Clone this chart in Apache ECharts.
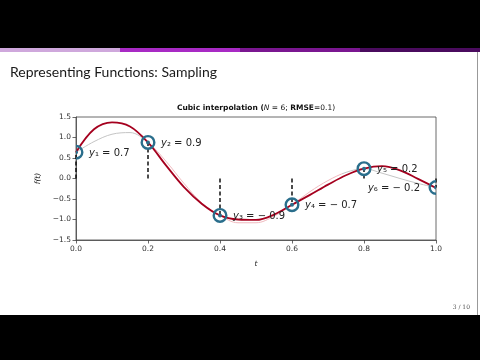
<!DOCTYPE html>
<html>
<head>
<meta charset="utf-8">
<script src="https://cdn.jsdelivr.net/npm/echarts@6/dist/echarts.min.js"></script>
<style>
html,body{margin:0;padding:0;background:#fff;}
#c{width:480px;height:360px;}
</style>
</head>
<body>
<div id="c"></div>
<script>
// ---- data ----
const fineT = [0,0.05,0.1,0.15,0.2,0.25,0.3,0.35,0.4,0.45,0.5,0.55,0.6,0.65,0.7,0.75,0.8,0.85,0.9,0.95,1.0];
const cubicVals = [0.64,1.20,1.37,1.27,0.88,0.32,-0.21,-0.62,-0.90,-1.00,-1.01,-0.88,-0.64,-0.40,-0.15,0.08,0.24,0.30,0.20,-0.01,-0.23];
const trueVals  = [0.64,0.90,1.08,1.12,0.88,0.42,-0.12,-0.60,-0.90,-1.08,-1.08,-0.92,-0.64,-0.32,-0.05,0.15,0.24,0.13,0.00,-0.12,-0.22];
const sampleT = [0,0.2,0.4,0.6,0.8,1.0];
const sampleY = [0.64,0.88,-0.90,-0.64,0.24,-0.22];
const sampleText = ['0.7','0.9','\u2212 0.9','\u2212 0.7','0.2','\u2212 0.2'];
const subs = ['\u2081','\u2082','\u2083','\u2084','\u2085','\u2086'];

const TEAL = '#2a6e8c';
const RED = '#a5001e';
const fmt = v => (v < 0 ? '\u2212' + Math.abs(v).toFixed(1) : v.toFixed(1));

const chart = echarts.init(document.getElementById('c'), null, {renderer:'canvas'});

const stems = sampleT.map((t,i) => [{coord:[t,0]},{coord:[t,sampleY[i]]}]);

const axisCommon = {
  axisLine:{show:true,onZero:false,lineStyle:{color:'#444',width:0.8}},
  axisTick:{show:true,inside:false,length:3.5,lineStyle:{color:'#444',width:0.8}},
  axisLabel:{fontFamily:'DejaVu Sans',fontSize:7.5,color:'#333',margin:5,formatter:v=>fmt(v)},
  splitLine:{show:false}
};

const option = {
  animation:false,
  backgroundColor:'#fff',
  grid:{left:76,right:44,top:117,bottom:120,show:true,borderColor:'#444',borderWidth:0.8,backgroundColor:'transparent'},
  xAxis:Object.assign({type:'value',min:0,max:1,interval:0.2,
    name:'t',nameLocation:'middle',nameGap:20,
    nameTextStyle:{fontFamily:'DejaVu Sans',fontStyle:'italic',fontSize:7.5,color:'#222'}},axisCommon),
  yAxis:Object.assign({type:'value',min:-1.5,max:1.5,interval:0.5,
    name:'f(t)',nameLocation:'middle',nameGap:23,nameRotate:90,
    nameTextStyle:{fontFamily:'DejaVu Sans',fontStyle:'italic',fontSize:7.5,color:'#222'}},axisCommon),
  visualMap:{show:false,type:'piecewise',seriesIndex:0,dimension:0,
    pieces:[{lt:0.21,color:'#c4c4c4'},{gte:0.21,lt:0.74,color:'#f0b9be'},{gte:0.74,color:'#c4c4c4'}]},
  series:[
    {type:'line',name:'true',data:fineT.map((t,i)=>[t,trueVals[i]]),smooth:0.35,symbol:'none',
      lineStyle:{width:1},z:2},
    {type:'line',name:'cubic',data:fineT.map((t,i)=>[t,cubicVals[i]]),smooth:0.35,symbol:'none',
      lineStyle:{width:1.8,color:RED},itemStyle:{color:RED},z:3,
      markLine:{silent:true,symbol:['none','none'],label:{show:false},
        lineStyle:{color:'#111',type:[4,2.5],width:1.5},data:stems}},
    {type:'custom',name:'samples',clip:true,z:5,
      data:sampleT.map((t,i)=>[t,sampleY[i]]),
      renderItem:(params,api)=>{
        const p = api.coord([api.value(0),api.value(1)]);
        return {type:'group',children:[
          {type:'circle',shape:{cx:p[0],cy:p[1],r:6.3},style:{fill:'none',stroke:TEAL,lineWidth:2.4}},
          {type:'circle',shape:{cx:p[0],cy:p[1],r:2},style:{fill:TEAL}}
        ]};
      }},
    {type:'custom',name:'labels',clip:false,z:6,
      data:sampleT.map((t,i)=>[t,sampleY[i],i]),
      renderItem:(params,api)=>{
        const i = api.value(2);
        const p = api.coord([api.value(0),api.value(1)]);
        const last = i === sampleT.length-1;
        return {type:'text',x:p[0]+(last?-16:13),y:p[1]+1,
          style:{text:'{i|y}{n|'+subs[i]+' = '+sampleText[i]+'}',
            align:last?'right':'left',verticalAlign:'middle',
            rich:{i:{fontFamily:'DejaVu Sans',fontStyle:'italic',fontSize:10,fill:'#222'},
                  n:{fontFamily:'DejaVu Sans',fontSize:10,fill:'#222'}}}};
      }}
  ],
  graphic:[
    {type:'rect',shape:{x:0,y:0,width:480,height:48},style:{fill:'#000'},z:10},
    {type:'rect',shape:{x:0,y:48,width:120,height:4},style:{fill:'#cfa8dc'},z:10},
    {type:'rect',shape:{x:120,y:48,width:120,height:4},style:{fill:'#a82ac4'},z:10},
    {type:'rect',shape:{x:240,y:48,width:120,height:4},style:{fill:'#7a1690'},z:10},
    {type:'rect',shape:{x:360,y:48,width:120,height:4},style:{fill:'#4a0b5e'},z:10},
    {type:'rect',shape:{x:0,y:315,width:480,height:45},style:{fill:'#000'},z:10},
    {type:'rect',shape:{x:477,y:52,width:1,height:263},style:{fill:'#999'},z:10},
    {type:'text',x:10,y:72,style:{text:'Representing Functions: Sampling',fontFamily:'Lato',fontSize:14,fill:'#1a1a1a',verticalAlign:'middle'},z:10},
    {type:'text',x:470,y:307,style:{text:'3 / 10',fontFamily:'DejaVu Serif',fontSize:6,fill:'#555',align:'right',verticalAlign:'middle'},z:10},
    {type:'text',x:256,y:108,style:{
      text:'{b|Cubic interpolation (}{i|N}{r| = 6; }{b|RMSE}{r|=0.1)}',
      align:'center',verticalAlign:'middle',
      rich:{b:{fontFamily:'DejaVu Sans',fontWeight:'bold',fontSize:7.5,fill:'#111'},
            i:{fontFamily:'DejaVu Sans',fontStyle:'italic',fontSize:7.5,fill:'#111'},
            r:{fontFamily:'DejaVu Sans',fontSize:7.5,fill:'#111'}}},z:10}
  ]
};
chart.setOption(option);
</script>
</body>
</html>
